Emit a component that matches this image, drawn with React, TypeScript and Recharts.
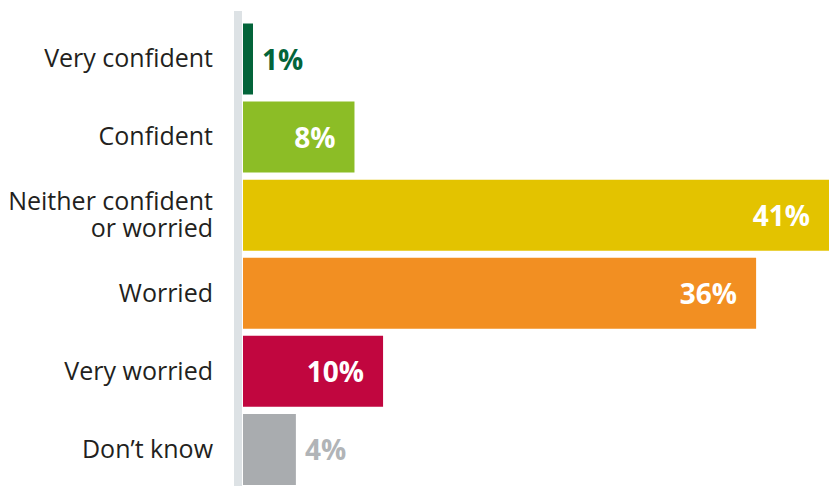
import React from 'react';
import { BarChart, Bar, XAxis, YAxis, Cell, LabelList } from 'recharts';

const categories = ['Very confident', 'Confident', 'Neither confident\nor worried', 'Worried', 'Very worried', 'Don’t know'];
const values = [0.7, 7.8, 41, 35.9, 9.8, 3.7];
const valueLabels = ['1%', '8%', '41%', '36%', '10%', '4%'];
const barColors = ['#03643a', '#8cbd26', '#e3c300', '#f28f22', '#c1063f', '#a9acaf'];
const labelColors = ['#03643a', '#ffffff', '#ffffff', '#ffffff', '#ffffff', '#b1b4b7'];
const labelOutside = [true, false, false, false, false, true];

const data = categories.map((name, i) => ({ name, value: values[i] }));

const FONT = '"Open Sans", sans-serif';

const CategoryTick = (props: any) => {
  const { x, y, payload } = props;
  const lines = String(payload.value).split('\n');
  const lh = 27.5;
  const first = -((lines.length - 1) * lh) / 2 + 8.8;
  return (
    <text x={x} y={y} textAnchor="end" fill="#231f20" fontSize={25} fontFamily={FONT}>
      {lines.map((l, i) => (
        <tspan key={i} x={x} dy={i === 0 ? first : lh}>{l}</tspan>
      ))}
    </text>
  );
};

const ValueLabel = (props: any) => {
  const vb = props.viewBox ?? props;
  const { x, y, width, height } = vb;
  const idx = props.index ?? values.indexOf(props.value);
  const out = labelOutside[idx];
  const tx = out ? x + width + 9 : x + width - 19;
  return (
    <text
      x={tx}
      y={y + height / 2}
      dy={10.5}
      textAnchor={out ? 'start' : 'end'}
      fill={labelColors[idx]}
      fontSize={28}
      fontWeight={700}
      fontFamily={FONT}
    >
      {valueLabels[idx]}
    </text>
  );
};

export default function App() {
  return (
    <div style={{ position: 'absolute', left: 0, top: 0, width: 835, height: 486, overflow: 'hidden', background: '#fff' }}>
      {/* grey rule left of the bars */}
      <div style={{ position: 'absolute', left: 234, top: 11, width: 8, height: 475, background: '#dde2e5' }} />
      <BarChart
        width={835}
        height={488}
        data={data}
        layout="vertical"
        margin={{ top: 19.5, right: 6, bottom: 0, left: 0 }}
      >
        <XAxis type="number" hide domain={[0, 41]} />
        <YAxis
          type="category"
          dataKey="name"
          width={243}
          axisLine={false}
          tickLine={false}
          tickSize={0}
          tickMargin={30}
          tick={<CategoryTick />}
          interval={0}
        />
        <Bar dataKey="value" barSize={71} isAnimationActive={false}>
          {data.map((d, i) => (
            <Cell key={d.name} fill={barColors[i]} />
          ))}
          <LabelList dataKey="value" content={<ValueLabel />} />
        </Bar>
      </BarChart>
    </div>
  );
}
